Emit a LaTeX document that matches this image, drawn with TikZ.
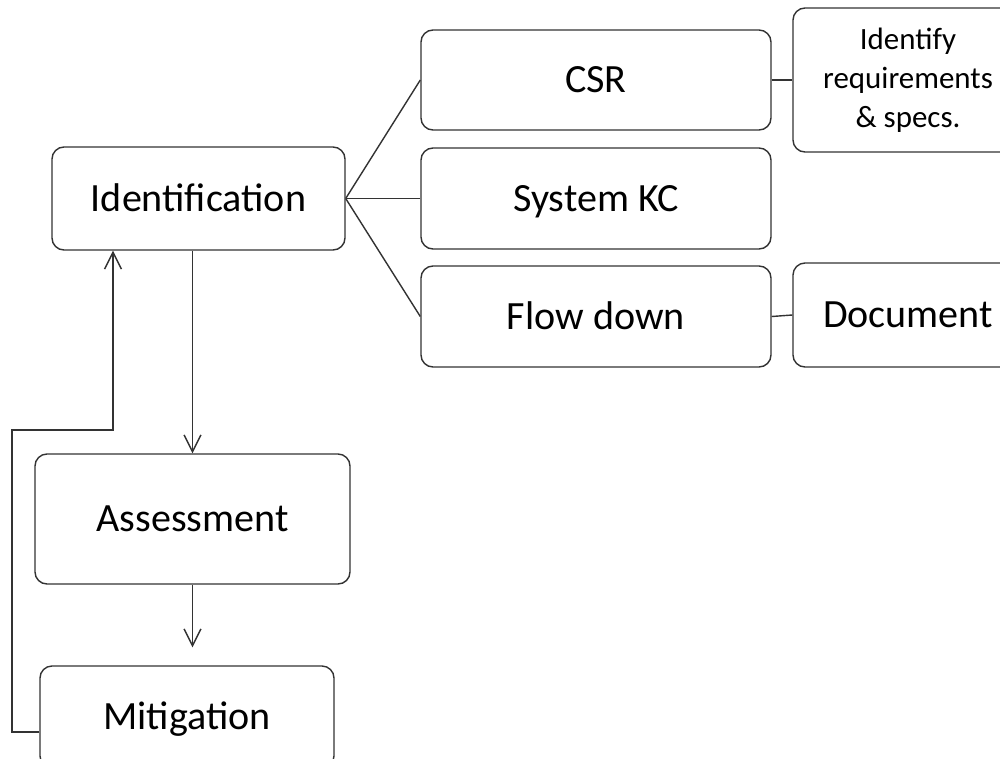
\documentclass[tikz,border=0pt]{standalone}
\usepackage{fontspec}
\setmainfont{Carlito}
\usetikzlibrary{arrows.meta}
\tikzset{every picture/.style={x=0.025cm, y=-0.025cm}}
\tikzset{
  blk/.style={draw=black!80, line width=1pt, rounded corners=0.3cm,
    inner sep=0pt, font=\fontsize{28.5}{34}\selectfont},
  box/.style 2 args={blk, minimum width=#1*0.025cm, minimum height=#2*0.025cm,
    text height=18.2pt, text depth=0pt},
  link/.style={draw=black!80, line width=1pt},
  arr/.style={link, -{Straight Barb[length=0.42cm,width=0.42cm]}}
}

\begin{document}
\begin{tikzpicture}
  \useasboundingbox (0,0) rectangle (1000,758);
  \clip (0,0) rectangle (1000,758);

  \node[box={293}{103}] (ident) at (198.5,198.5) {Identification};
  \node[box={350}{100}] (csr) at (596,80) {CSR};
  \node[box={350}{101}] (syskc) at (596,198.5) {System KC};
  \node[box={350}{101}] (flow) at (596,316.5) {Flow down};
  \node[blk, align=center, minimum width=230*0.025cm, minimum height=144*0.025cm,
    font=\fontsize{22}{27.7}\selectfont] (reqs) at (908,80) {Identify\\requirements\\\& specs.};
  \node[box={230}{104}] (doc) at (908,315) {Document};
  \node[box={315}{130}] (assess) at (192.5,519) {Assessment};
  \node[box={294}{102}] (mitig) at (187,717) {Mitigation};

  \coordinate (loopa) at (12,430);
  \coordinate (loopb) at (113,430);

  \draw[link] (ident.east) -- (csr.west);
  \draw[link] (ident.east) -- (syskc.west);
  \draw[link] (ident.east) -- (flow.west);
  \draw[link] (csr.east) -- (reqs.west);
  \draw[link] (flow.east) -- (doc.west);

  \draw[arr] (assess.north |- ident.south) -- (assess.north);
  \draw[arr, shorten >=0.45cm] (assess.south) -- (assess.south |- mitig.north);
  \draw[arr] ([yshift=-0.375cm]mitig.west) -| (loopa) -- (loopb) -- (loopb |- ident.south);
\end{tikzpicture}
\end{document}
